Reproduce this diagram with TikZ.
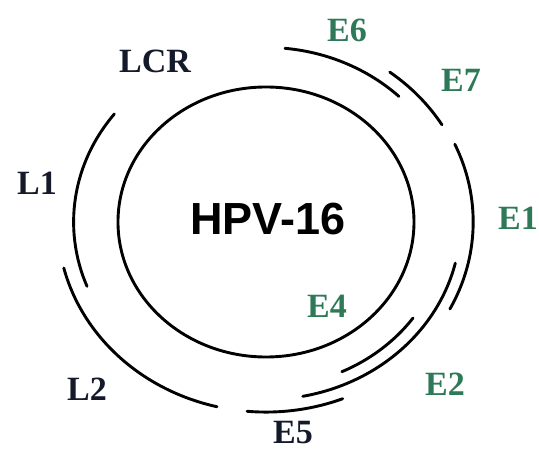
\documentclass[tikz,border=0pt]{standalone}
\usepackage{fontspec}
\setmainfont{Liberation Serif}
\newfontfamily\titlefont{Liberation Sans}
\usepackage{xcolor}
\definecolor{earlyColor}{HTML}{2E7A58}
\definecolor{lateColor}{HTML}{141A2A}
\usetikzlibrary{positioning}

\begin{document}
\begin{tikzpicture}[x=1pt, y=1pt,
    gene/.style={line width=2.9pt, line cap=round},
    earlylbl/.style={font=\fontsize{34}{36}\selectfont\bfseries, text=earlyColor, inner sep=0pt},
    latelbl/.style={font=\fontsize{34}{36}\selectfont\bfseries, text=lateColor, inner sep=0pt}]
    \useasboundingbox (-266,-232) rectangle (273,222);

    % Genome circle
    \coordinate (ori) at (0,0);
    \node[font=\titlefont\fontsize{45}{48}\selectfont\bfseries, inner sep=0pt] (hpv) at (2,3) {HPV-16};
    \draw[gene] (ori) ellipse[x radius=148, y radius=135];

    % Reading frames (scale / start angle / end angle)
    \foreach \k/\a/\b in {1.30/142/201.5, 1.293/46/84.3, 1.39/31.2/53, 1.40/-27.4/24.3,
                          1.315/-79.1/-13.4, 1.222/-65.2/-35.6, 1.408/-95.2/-68.4, 1.408/194/256.4}{
        \pgfmathsetmacro\rx{148*\k}
        \pgfmathsetmacro\ry{135*\k}
        \draw[gene] (ori) ++(\a:\rx pt and \ry pt) arc[start angle=\a, end angle=\b, x radius=\rx pt, y radius=\ry pt];
    }

    % Gene labels
    \node[earlylbl] (e6) at (81,192) {E6};
    \node[earlylbl] (e7) at (195,142) {E7};
    \node[earlylbl] (e1) at (252,4) {E1};
    \node[earlylbl] (e4) at (61,-84) {E4};
    \node[earlylbl] (e2) at (179,-162) {E2};
    \node[latelbl] (e5) at (27,-211) {E5};
    \node[latelbl] (lcr) at (-111,161) {LCR};
    \node[latelbl] (l1) at (-229,39) {L1};
    \node[latelbl] (l2) at (-179,-167) {L2};
\end{tikzpicture}
\end{document}
